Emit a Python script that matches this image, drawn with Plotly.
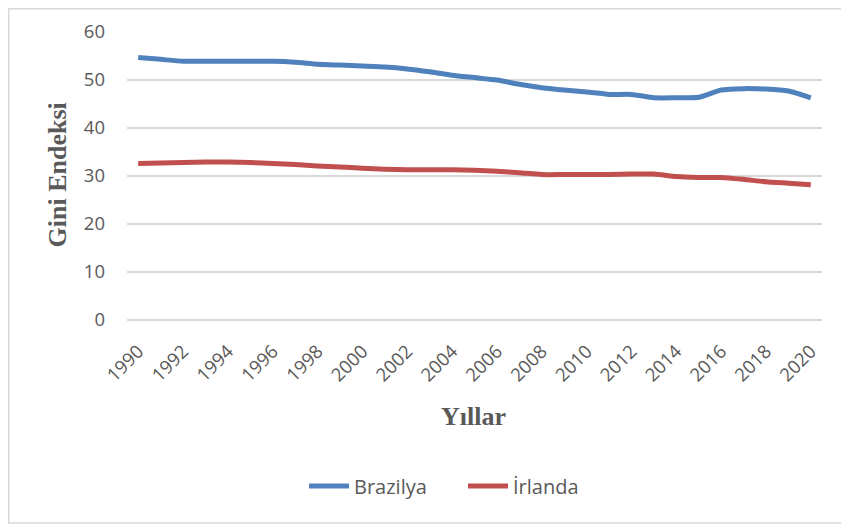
import plotly.graph_objects as go

years = [str(y) for y in range(1990, 2021)]
tick_years = [str(y) for y in range(1990, 2021, 2)]
brazil = [54.7, 54.3, 53.9, 53.9, 53.9, 53.9, 53.9, 53.7, 53.3, 53.1, 52.9, 52.7, 52.3, 51.7, 51.0, 50.5,
          50.0, 49.1, 48.4, 47.9, 47.5, 47.0, 47.0, 46.3, 46.3, 46.4, 47.9, 48.2, 48.1, 47.7, 46.3]
ireland = [32.6, 32.7, 32.8, 32.9, 32.9, 32.8, 32.6, 32.4, 32.1, 31.9, 31.6, 31.4, 31.3, 31.3, 31.3, 31.2,
           31.0, 30.7, 30.3, 30.3, 30.3, 30.3, 30.4, 30.4, 29.9, 29.7, 29.7, 29.3, 28.8, 28.5, 28.2]
series_names = ["Brazilya", "İrlanda"]
y_ticks = [0, 10, 20, 30, 40, 50, 60]

label_font = "'Open Sans', 'Noto Sans', sans-serif"
title_font = "'Liberation Serif', 'DejaVu Serif', serif"

# page offset caused by default body margin
OFF = 8
W, H = 849 - OFF, 525 - OFF
L, T = 127 - OFF, 32 - OFF
PW, PH = 695, 288
R, B = W - L - PW, H - T - PH


def px(xp):
    return (xp - OFF - L) / PW


def py(yp):
    return (T + PH - (yp - OFF)) / PH


fig = go.Figure()
fig.add_trace(go.Scatter(x=years, y=brazil, name=series_names[0], mode="lines",
                         line=dict(color="#4F81BD", width=5, shape="spline", smoothing=0.6)))
fig.add_trace(go.Scatter(x=years, y=ireland, name=series_names[1], mode="lines",
                         line=dict(color="#C0504D", width=5, shape="spline", smoothing=0.6)))

fig.update_layout(
    width=W, height=H,
    margin=dict(l=L, r=R, t=T, b=B, autoexpand=False),
    paper_bgcolor="white", plot_bgcolor="white",
    showlegend=True,
    legend=dict(orientation="h", x=px(463), xanchor="center", y=py(486), yanchor="middle",
                font=dict(family=label_font, size=20, color="#595959"), itemwidth=40,
                entrywidth=104, entrywidthmode="pixels"),
    xaxis=dict(type="category", range=[-0.5, len(years) - 0.5], tickmode="array",
               tickvals=tick_years, ticktext=tick_years,
               tickangle=-45, showgrid=False, showline=False, ticks="", ticklabelstandoff=16,
               tickfont=dict(family=label_font, size=18.5, color="#595959")),
    yaxis=dict(range=[0, 60], tickvals=y_ticks, showgrid=True, gridcolor="#D9D9D9", gridwidth=1.5,
               zeroline=True, zerolinecolor="#D9D9D9", zerolinewidth=1.5, showline=False, ticks="",
               tickfont=dict(family=label_font, size=18.5, color="#595959"), ticklabelstandoff=21),
    shapes=[dict(type="rect", xref="paper", yref="paper",
                 x0=px(8.8), x1=px(842), y0=py(523), y1=py(8.8),
                 line=dict(color="#D9D9D9", width=1.5))],
    annotations=[
        dict(text="<b>Gini Endeksi</b>", xref="paper", yref="paper", x=px(57), y=py(175.5),
             xanchor="center", yanchor="middle", textangle=-90, showarrow=False,
             font=dict(family=title_font, size=26, color="#595959")),
        dict(text="<b>Yıllar</b>", xref="paper", yref="paper", x=px(473.5), y=py(416),
             xanchor="center", yanchor="middle", showarrow=False,
             font=dict(family=title_font, size=26, color="#595959")),
    ],
)

fig.write_html("out.html")
